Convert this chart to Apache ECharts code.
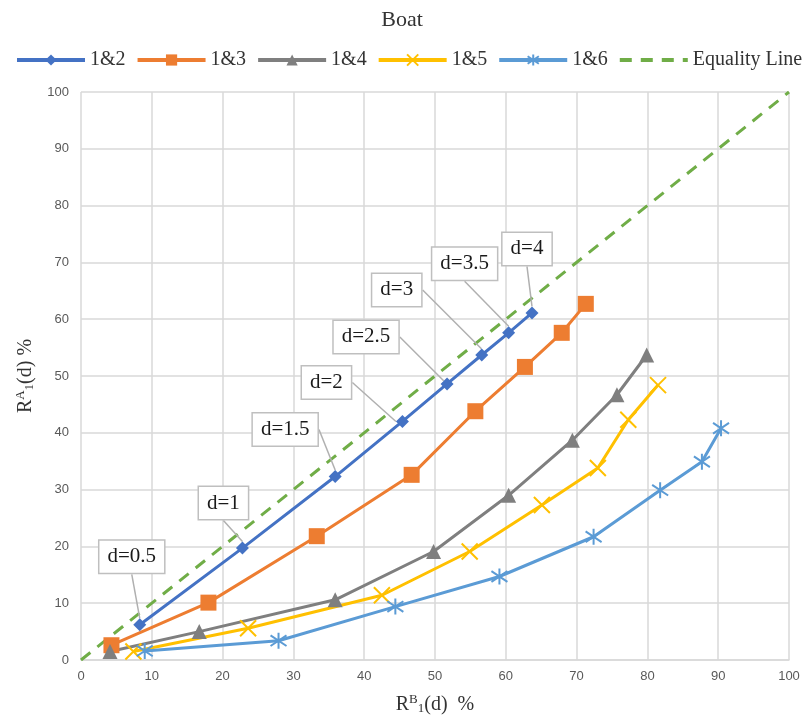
<!DOCTYPE html>
<html>
<head>
<meta charset="utf-8">
<script src="https://cdn.jsdelivr.net/npm/echarts@6/dist/echarts.min.js"></script>
<style>html,body{margin:0;padding:0;background:#fff;}#c{width:804px;height:726px;}</style>
</head>
<body>
<div id="c"></div>
<script>
// ---- data ----
const seriesNames = ['1&2', '1&3', '1&4', '1&5', '1&6', 'Equality Line'];
const x12 = [8.3, 22.8, 35.9, 45.4, 51.7, 56.6, 60.4, 63.7];
const y12 = [6.2, 19.7, 32.3, 42.0, 48.6, 53.7, 57.6, 61.1];
const x13 = [4.3, 18.0, 33.3, 46.7, 55.7, 62.7, 67.9, 71.3];
const y13 = [2.6, 10.1, 21.8, 32.6, 43.8, 51.6, 57.6, 62.7];
const x14 = [4.1, 16.7, 35.9, 49.8, 60.4, 69.4, 75.7, 79.9];
const y14 = [1.5, 5.0, 10.6, 19.1, 29.0, 38.7, 46.7, 53.7];
const x15 = [7.4, 23.6, 42.5, 54.9, 65.1, 73.0, 77.3, 81.5];
const y15 = [1.5, 5.6, 11.4, 19.1, 27.3, 33.8, 42.3, 48.4];
const x16 = [9.0, 27.9, 44.4, 59.1, 72.4, 81.8, 87.7, 90.4];
const y16 = [1.6, 3.4, 9.4, 14.7, 21.7, 29.9, 34.9, 40.8];
const xEq = [0, 100];
const yEq = [0, 100];
const dLabels = ['d=0.5', 'd=1', 'd=1.5', 'd=2', 'd=2.5', 'd=3', 'd=3.5', 'd=4'];
const xTicks = [0, 10, 20, 30, 40, 50, 60, 70, 80, 90, 100];

// ---- styling (not data) ----
const calloutOffsets = [[-8,-68],[-19,-45],[-50,-47],[-76,-39],[-81,-47],[-85,-65],[-44,-69],[-5,-64]];
const colors = ['#4472C4', '#ED7D31', '#7F7F7F', '#FFC000', '#5B9BD5', '#70AD47'];
const serif = '"Liberation Serif", "Times New Roman", serif';
const sans = '"Liberation Sans", Arial, sans-serif';
const xSym = 'path://M0,0L10,10M10,0L0,10';
const starSym = 'path://M0,1L10,9M10,1L0,9M5,-1L5,11';

function pairs(xs, ys) { return xs.map((x, i) => [x, ys[i]]); }

function mkSeries(name, xs, ys, color, symbol, size, stroke) {
  return {
    name: name, type: 'line', data: pairs(xs, ys),
    symbol: symbol, symbolSize: size,
    lineStyle: { color: color, width: 3 },
    itemStyle: stroke ? { color: 'none', borderColor: color, borderWidth: 2 } : { color: color },
    emphasis: { disabled: true }
  };
}

const s12 = mkSeries(seriesNames[0], x12, y12, colors[0], 'diamond', 13, false);
s12.z = 5;
s12.label = {
  show: true, position: 'inside',
  formatter: p => dLabels[p.dataIndex],
  fontFamily: serif, fontSize: 21, color: '#1a1a1a',
  backgroundColor: '#fff', borderColor: '#BFBFBF', borderWidth: 1.5,
  padding: [6, 8, 5, 8]
};
s12.labelLine = { show: true, lineStyle: { color: '#B0B0B0', width: 1.5 } };
s12.labelLayout = p => ({ dx: calloutOffsets[p.dataIndex][0], dy: calloutOffsets[p.dataIndex][1] });

const legendData = seriesNames.map((n, i) => i === 5
  ? { name: n, itemStyle: { opacity: 0 } }
  : { name: n });

const option = {
  animation: false,
  color: colors,
  title: {
    text: 'Boat', left: 'center', top: 4,
    textStyle: { fontFamily: serif, fontSize: 22, fontWeight: 'normal', color: '#333' }
  },
  legend: {
    left: 10, top: 45, width: 1000, itemWidth: 68, itemHeight: 14, itemGap: 10,
    data: legendData,
    lineStyle: { width: 4 },
    textStyle: { fontFamily: serif, fontSize: 20, color: '#333' }
  },
  grid: { left: 81, right: 15, top: 92, bottom: 66 },
  xAxis: {
    type: 'value', min: 0, max: 100, interval: 10,
    name: '{r|R}{sup|B}{sub|1}{r|(d)  %}', nameLocation: 'middle', nameGap: 33,
    nameTextStyle: { rich: {
      r: { fontFamily: serif, fontSize: 20, color: '#333' },
      sup: { fontFamily: serif, fontSize: 13, color: '#333', padding: [0, 0, 10, 0] },
      sub: { fontFamily: serif, fontSize: 13, color: '#333', padding: [8, 0, 0, 0] }
    } },
    axisLine: { show: true, lineStyle: { color: '#D9D9D9', width: 1.5 } },
    axisTick: { show: false },
    axisLabel: { fontFamily: sans, fontSize: 13, color: '#595959', margin: 10,
      formatter: v => xTicks.includes(v) ? String(v) : '' },
    splitLine: { show: true, lineStyle: { color: '#D9D9D9', width: 1.5 } }
  },
  yAxis: {
    type: 'value', min: 0, max: 100, interval: 10,
    name: '{r|R}{sup|A}{sub|1}{r|(d) %}', nameLocation: 'middle', nameGap: 41, nameRotate: 90,
    nameTextStyle: { rich: {
      r: { fontFamily: serif, fontSize: 20, color: '#333' },
      sup: { fontFamily: serif, fontSize: 13, color: '#333', padding: [0, 0, 10, 0] },
      sub: { fontFamily: serif, fontSize: 13, color: '#333', padding: [8, 0, 0, 0] }
    } },
    axisLine: { show: false },
    axisTick: { show: false },
    axisLabel: { fontFamily: sans, fontSize: 13, color: '#595959', margin: 12 },
    splitLine: { show: true, lineStyle: { color: '#D9D9D9', width: 1.5 } }
  },
  series: [
    {
      name: seriesNames[5], type: 'line', data: pairs(xEq, yEq), symbol: 'none', z: 1,
      lineStyle: { color: colors[5], width: 3, type: [12, 9] },
      itemStyle: { color: colors[5] }, emphasis: { disabled: true }
    },
    s12,
    mkSeries(seriesNames[1], x13, y13, colors[1], 'rect', 16, false),
    mkSeries(seriesNames[2], x14, y14, colors[2], 'triangle', 15, false),
    mkSeries(seriesNames[3], x15, y15, colors[3], xSym, 16, true),
    mkSeries(seriesNames[4], x16, y16, colors[4], starSym, 16, true)
  ]
};
const chart = echarts.init(document.getElementById('c'), null, { renderer: 'canvas' });
chart.setOption(option);
</script>
</body>
</html>
